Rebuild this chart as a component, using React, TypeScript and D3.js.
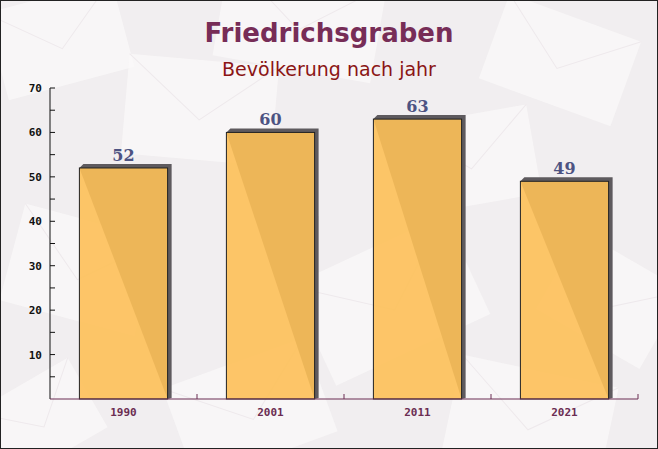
import React from "react";
import * as d3 from "d3";

const years = ["1990", "2001", "2011", "2021"];
const population = [52, 60, 63, 49];
const yTicks = [10, 20, 30, 40, 50, 60, 70];
const title = "Friedrichsgraben";
const subtitle = "Bevölkerung nach jahr";

// decorative background envelopes: [cx, cy, w, h, angle]
const envelopes: [number, number, number, number, number][] = [
  [60, 40, 130, 90, -15],
  [300, 20, 160, 100, 10],
  [560, 60, 140, 90, 20],
  [200, 110, 150, 100, 5],
  [470, 160, 130, 90, -10],
  [80, 270, 140, 100, 15],
  [390, 300, 170, 110, -25],
  [610, 300, 120, 90, 30],
  [250, 410, 150, 100, -20],
  [530, 420, 160, 100, 12],
  [40, 420, 110, 80, -30],
];

const W = 658;
const H = 449;
const margin = { left: 50, right: 20, top: 88, bottom: 50 };

export default function App() {
  const x = d3
    .scaleBand<string>()
    .domain(years)
    .range([margin.left, W - margin.right])
    .paddingInner(0.4)
    .paddingOuter(0.2);
  const xBounds = d3
    .scaleBand<string>()
    .domain(years)
    .range([margin.left, W - margin.right]);
  const y = d3.scaleLinear().domain([0, 70]).range([H - margin.bottom, margin.top]);
  const minor = d3.range(5, 70, 10);
  const x0 = margin.left;
  const x1 = W - margin.right;
  const yb = y(0);

  return (
    <div style={{ position: "fixed", left: 0, top: 0 }}>
      <svg width={W} height={H} style={{ display: "block" }}>
        <rect x={0} y={0} width={W} height={H} fill="#f1eef0" />
        {envelopes.map((e, i) => (
          <g key={i} transform={`translate(${e[0]},${e[1]}) rotate(${e[4]})`}>
            <rect x={-e[2] / 2} y={-e[3] / 2} width={e[2]} height={e[3]} fill="#fbfafa" opacity={0.7} />
            <path
              d={`M${-e[2] / 2},${-e[3] / 2} L0,${e[3] * 0.1} L${e[2] / 2},${-e[3] / 2}`}
              fill="none"
              stroke="#eee9ec"
              strokeWidth={1}
            />
          </g>
        ))}
        <rect x={0.5} y={0.5} width={W - 1} height={H - 1} fill="none" stroke="#222" strokeWidth={1} />

        <text
          x={W / 2}
          y={42}
          textAnchor="middle"
          fontFamily="DejaVu Sans"
          fontWeight="bold"
          fontSize={26}
          fill="#772d57"
        >
          {title}
        </text>
        <text x={W / 2} y={76} textAnchor="middle" fontFamily="DejaVu Sans" fontSize={19} fill="#8b1515">
          {subtitle}
        </text>

        {/* bars */}
        {years.map((yr, i) => {
          const bx = x(yr)!;
          const bw = x.bandwidth();
          const by = y(population[i]);
          const d = 4;
          return (
            <g key={yr}>
              <path
                d={`M${bx},${by} L${bx + d},${by - d} L${bx + bw + d},${by - d} L${bx + bw + d},${yb - 1} L${bx + bw},${yb} Z`}
                fill="#5e5a5e"
              />
              <rect
                x={bx}
                y={by}
                width={bw}
                height={yb - by}
                fill="#fdc058"
                fillOpacity={0.9}
                stroke="#222"
                strokeWidth={1}
              />
              <text
                x={bx + bw / 2}
                y={by - 7}
                textAnchor="middle"
                fontFamily="DejaVu Serif"
                fontWeight="bold"
                fontSize={16}
                fill="#4d5382"
              >
                {population[i]}
              </text>
            </g>
          );
        })}

        {/* y axis */}
        <line x1={x0} x2={x0} y1={y(70)} y2={yb} stroke="#111" strokeWidth={1} />
        {yTicks.map((t) => (
          <g key={t}>
            <line x1={x0} x2={x0 + 5} y1={y(t)} y2={y(t)} stroke="#111" />
            <text
              x={42}
              y={y(t) + 4}
              textAnchor="end"
              fontFamily="DejaVu Sans Mono"
              fontWeight="bold"
              fontSize={11}
              fill="#111"
            >
              {t}
            </text>
          </g>
        ))}
        {minor.map((t) => (
          <line key={t} x1={x0} x2={x0 + 5} y1={y(t)} y2={y(t)} stroke="#111" />
        ))}

        {/* x axis */}
        <line x1={x0} x2={x1} y1={yb} y2={yb} stroke="#6b2d52" strokeWidth={1} />
        {years.map((yr) => {
          const bx = xBounds(yr)!;
          return (
            <g key={yr}>
              <line x1={bx + xBounds.bandwidth()} x2={bx + xBounds.bandwidth()} y1={yb} y2={yb - 5} stroke="#6b2d52" />
              <text
                x={bx + xBounds.bandwidth() / 2}
                y={yb + 17}
                textAnchor="middle"
                fontFamily="DejaVu Sans Mono"
                fontWeight="bold"
                fontSize={11}
                fill="#6b2d52"
              >
                {yr}
              </text>
            </g>
          );
        })}
      </svg>
    </div>
  );
}
